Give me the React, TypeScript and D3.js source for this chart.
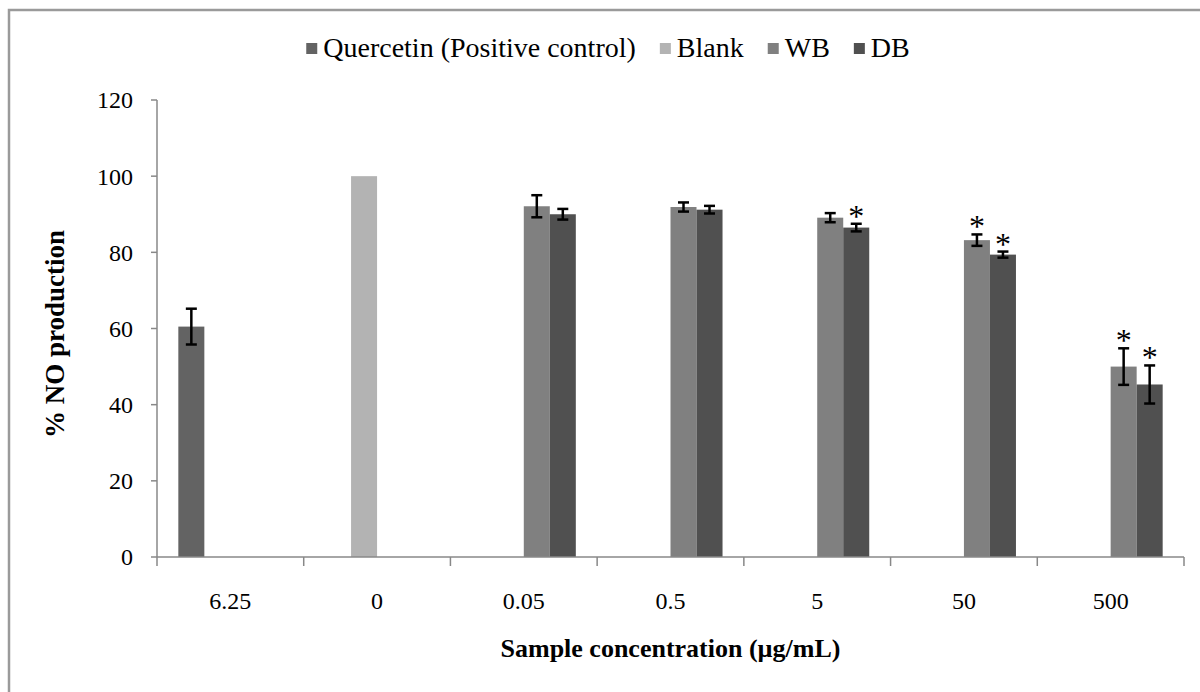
import { useEffect, useRef } from 'react';
import * as d3 from 'd3';

const categories = ['6.25', '0', '0.05', '0.5', '5', '50', '500'];
const seriesNames = ['Quercetin (Positive control)', 'Blank', 'WB', 'DB'];
const seriesColors = ['#636363', '#b3b3b3', '#808080', '#505050'];

const quercetin = [60.5, 0, 0, 0, 0, 0, 0];
const quercetinErr = [4.7, 0, 0, 0, 0, 0, 0];
const blank = [0, 100, 0, 0, 0, 0, 0];
const blankErr = [0, 0, 0, 0, 0, 0, 0];
const wb = [0, 0, 92.1, 91.9, 89.1, 83.2, 50.0];
const wbErr = [0, 0, 2.9, 1.2, 1.2, 1.5, 4.8];
const db = [0, 0, 90.0, 91.2, 86.5, 79.4, 45.3];
const dbErr = [0, 0, 1.4, 1.0, 1.0, 0.8, 5.0];
const wbSig = [false, false, false, false, false, true, true];
const dbSig = [false, false, false, false, true, true, true];

const yTicks = [0, 20, 40, 60, 80, 100, 120];

const FONT = 'Liberation Serif';

export default function App() {
  const svgRef = useRef<SVGSVGElement | null>(null);

  useEffect(() => {
    document.body.style.margin = '0';
    if (!svgRef.current) return;
    const width = 1200;
    const height = 692;
    const svg = d3.select(svgRef.current);
    svg.selectAll('*').remove();
    svg.attr('width', width).attr('height', height).style('display', 'block');

    svg.append('rect').attr('width', width).attr('height', height).attr('fill', '#fff');
    // outer chart border
    svg.append('rect')
      .attr('x', 9).attr('y', 10)
      .attr('width', 1210).attr('height', 700)
      .attr('fill', 'none')
      .attr('stroke', '#9a9a9a')
      .attr('stroke-width', 2.5);

    const left = 157;
    const right = 1184;
    const top = 100;
    const bottom = 557;

    const y = d3.scaleLinear().domain([0, 120]).range([bottom, top]);
    const x0 = d3.scaleBand<string>().domain(categories).range([left, right]).padding(0);
    const x1 = d3.scaleBand<string>().domain(seriesNames).range([0, x0.bandwidth()])
      .paddingInner(0).paddingOuter(0.82);

    const values = [quercetin, blank, wb, db];
    const errs = [quercetinErr, blankErr, wbErr, dbErr];
    const sigs = [null, null, wbSig, dbSig];

    const axisColor = '#888888';

    // bars
    seriesNames.forEach((name, s) => {
      categories.forEach((cat, i) => {
        const v = values[s][i];
        if (!v) return;
        const bx = (x0(cat) ?? 0) + (x1(name) ?? 0);
        svg.append('rect')
          .attr('x', bx)
          .attr('y', y(v))
          .attr('width', x1.bandwidth())
          .attr('height', y(0) - y(v))
          .attr('fill', seriesColors[s]);
      });
    });

    // y axis
    svg.append('line')
      .attr('x1', left).attr('x2', left)
      .attr('y1', top).attr('y2', bottom)
      .attr('stroke', axisColor).attr('stroke-width', 1.5);
    yTicks.forEach(t => {
      svg.append('line')
        .attr('x1', left - 6).attr('x2', left)
        .attr('y1', y(t)).attr('y2', y(t))
        .attr('stroke', axisColor).attr('stroke-width', 1.5);
      svg.append('text')
        .attr('x', 133).attr('y', y(t))
        .attr('dy', '0.35em')
        .attr('text-anchor', 'end')
        .attr('font-family', FONT)
        .attr('font-size', 24)
        .attr('fill', '#000')
        .text(t);
    });

    // x axis
    svg.append('line')
      .attr('x1', left).attr('x2', right)
      .attr('y1', bottom).attr('y2', bottom)
      .attr('stroke', axisColor).attr('stroke-width', 1.5);
    const bounds = categories.map(c => x0(c) ?? 0).concat([right]);
    bounds.forEach(bx => {
      svg.append('line')
        .attr('x1', bx).attr('x2', bx)
        .attr('y1', bottom).attr('y2', bottom + 9)
        .attr('stroke', axisColor).attr('stroke-width', 1.5);
    });
    categories.forEach(c => {
      svg.append('text')
        .attr('x', (x0(c) ?? 0) + x0.bandwidth() / 2)
        .attr('y', 609)
        .attr('text-anchor', 'middle')
        .attr('font-family', FONT)
        .attr('font-size', 24)
        .attr('fill', '#000')
        .text(c);
    });

    // error bars and significance marks
    seriesNames.forEach((name, s) => {
      categories.forEach((cat, i) => {
        const v = values[s][i];
        const e = errs[s][i];
        if (!v || !e) return;
        const cx = (x0(cat) ?? 0) + (x1(name) ?? 0) + x1.bandwidth() / 2;
        const g = svg.append('g').attr('stroke', '#000').attr('stroke-width', 2.5);
        g.append('line').attr('x1', cx).attr('x2', cx).attr('y1', y(v + e)).attr('y2', y(v - e));
        g.append('line').attr('x1', cx - 5.5).attr('x2', cx + 5.5).attr('y1', y(v + e)).attr('y2', y(v + e));
        g.append('line').attr('x1', cx - 5.5).attr('x2', cx + 5.5).attr('y1', y(v - e)).attr('y2', y(v - e));
        const sig = sigs[s];
        if (sig && sig[i]) {
          svg.append('text')
            .attr('x', cx)
            .attr('y', y(v + e) + 3)
            .attr('text-anchor', 'middle')
            .attr('font-family', FONT)
            .attr('font-size', 32)
            .attr('fill', '#000')
            .text('*');
        }
      });
    });

    // axis titles
    svg.append('text')
      .attr('x', (left + right) / 2)
      .attr('y', 657)
      .attr('text-anchor', 'middle')
      .attr('font-family', FONT)
      .attr('font-size', 26)
      .attr('font-weight', 'bold')
      .attr('fill', '#000')
      .text('Sample concentration (µg/mL)');

    svg.append('text')
      .attr('transform', `translate(64, 334) rotate(-90)`)
      .attr('text-anchor', 'middle')
      .attr('font-family', FONT)
      .attr('font-size', 27)
      .attr('font-weight', 'bold')
      .attr('fill', '#000')
      .text('% NO production');

    // legend
    const legend = svg.append('g');
    let lx = 0;
    seriesNames.forEach((name, s) => {
      const item = legend.append('g').attr('transform', `translate(${lx}, 0)`);
      item.append('rect')
        .attr('x', 0).attr('y', -14)
        .attr('width', 11).attr('height', 11)
        .attr('fill', seriesColors[s]);
      const t = item.append('text')
        .attr('x', 17).attr('y', 0)
        .attr('font-family', FONT)
        .attr('font-size', 28)
        .attr('fill', '#000')
        .text(name);
      const w = (t.node() as SVGTextElement).getComputedTextLength();
      lx += 17 + w + 24;
    });
    const legendWidth = lx - 24;
    legend.attr('transform', `translate(${608 - legendWidth / 2}, 57)`);
  }, []);

  return <svg ref={svgRef} />;
}
